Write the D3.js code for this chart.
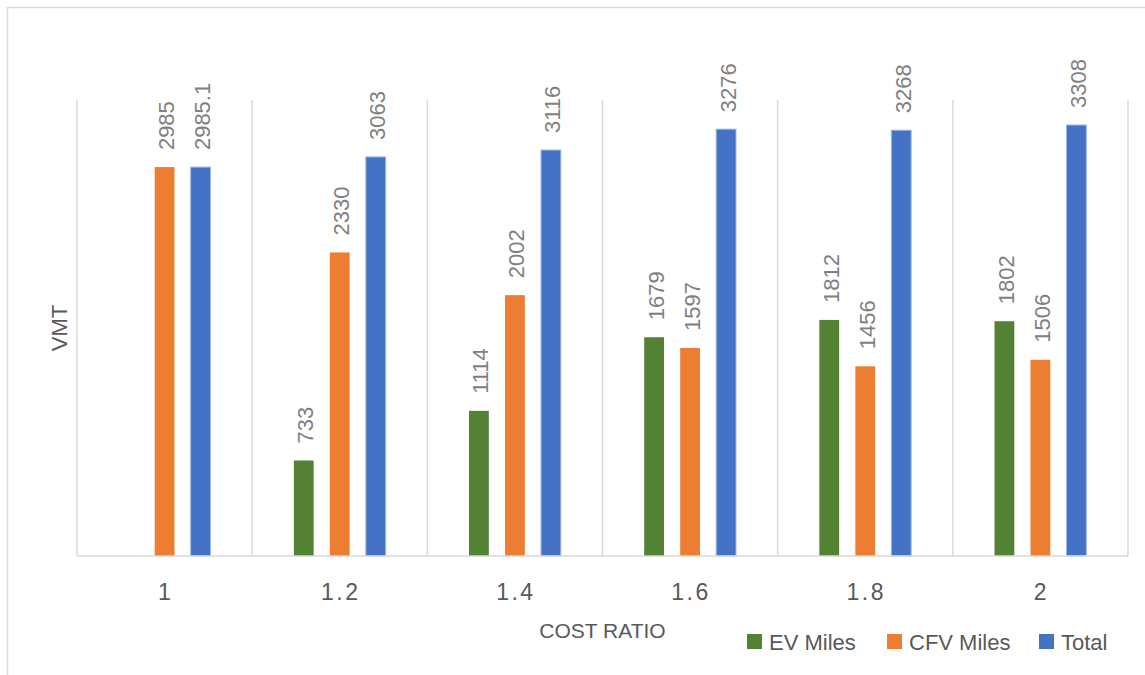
<!DOCTYPE html>
<html>
<head>
<meta charset="utf-8">
<script src="https://cdn.jsdelivr.net/npm/d3@7"></script>
<style>
  body { margin: 0; background: #fff; }
  text { font-family: "Liberation Sans", Arial, sans-serif; }
</style>
</head>
<body>
<div id="chart"></div>
<script>
const categories = ["1", "1.2", "1.4", "1.6", "1.8", "2"];
const seriesNames = ["EV Miles", "CFV Miles", "Total"];
const evMiles = [null, 733, 1114, 1679, 1812, 1802];
const cfvMiles = [2985, 2330, 2002, 1597, 1456, 1506];
const totals = [2985.1, 3063, 3116, 3276, 3268, 3308];
const colors = ["#548235", "#ED7D31", "#4472C4"];

const width = 1145, height = 675;
const margin = { top: 100, right: 17, bottom: 119, left: 77 };
const plotW = width - margin.left - margin.right,
      plotH = height - margin.top - margin.bottom;

const svg = d3.select("#chart").append("svg")
    .attr("width", width)
    .attr("height", height);

// outer chart border (only left/top are visible in the picture)
svg.append("rect")
    .attr("x", 7.5).attr("y", 7.5)
    .attr("width", 1160).attr("height", 700)
    .attr("fill", "none")
    .attr("stroke", "#d9d9d9")
    .attr("stroke-width", 1.5);

const g = svg.append("g")
    .attr("transform", `translate(${margin.left}, ${margin.top})`);

const x0 = d3.scaleBand().domain(categories).range([0, plotW]).padding(0);
const groupW = 108;
const x1 = d3.scaleBand().domain(seriesNames)
    .range([(x0.bandwidth() - groupW) / 2, (x0.bandwidth() + groupW) / 2])
    .paddingInner(0.45).paddingOuter(0.225);
const y = d3.scaleLinear().domain([0, 3500]).range([plotH, 0]);

// vertical gridlines at category boundaries
const bounds = categories.map(c => x0(c)).concat([plotW]);
g.selectAll(".grid").data(bounds).join("line")
    .attr("x1", d => d).attr("x2", d => d)
    .attr("y1", 0).attr("y2", plotH)
    .attr("stroke", "#d9d9d9").attr("stroke-width", 1.5);

const rows = categories.map((c, i) => ({
    cat: c,
    vals: [evMiles[i], cfvMiles[i], totals[i]]
}));

const groups = g.selectAll(".grp").data(rows).join("g")
    .attr("transform", d => `translate(${x0(d.cat)},0)`);

const items = groups.selectAll(".bar")
    .data(d => d.vals.map((v, k) => ({ name: seriesNames[k], v, k })).filter(d => d.v != null))
    .join("g");

items.append("rect")
    .attr("x", d => x1(d.name))
    .attr("width", x1.bandwidth())
    .attr("y", d => y(d.v))
    .attr("height", d => plotH - y(d.v))
    .attr("fill", d => colors[d.k])
    .attr("stroke", d => d.k === 2 ? "#9fb6e1" : "none")
    .attr("stroke-width", 1);

items.append("text")
    .attr("transform", d => `translate(${x1(d.name) + x1.bandwidth() / 2}, ${y(d.v) - 17}) rotate(-90)`)
    .attr("dy", "0.43em")
    .attr("text-anchor", "start")
    .attr("font-size", 22)
    .attr("fill", "#7f7f7f")
    .text(d => d.v);

// baseline axis
g.append("line")
    .attr("x1", 0).attr("x2", plotW)
    .attr("y1", plotH).attr("y2", plotH)
    .attr("stroke", "#d9d9d9").attr("stroke-width", 1.5);

// category labels
g.selectAll(".xlab").data(categories).join("text")
    .attr("x", d => x0(d) + x0.bandwidth() / 2 + 1)
    .attr("y", plotH + 44)
    .attr("text-anchor", "middle")
    .attr("font-size", 23)
    .attr("letter-spacing", "2.5px")
    .attr("fill", "#595959")
    .text(d => d);

// axis titles
svg.append("text")
    .attr("x", margin.left + plotW / 2)
    .attr("y", 638)
    .attr("text-anchor", "middle")
    .attr("font-size", 21)
    .attr("fill", "#595959")
    .text("COST RATIO");

svg.append("text")
    .attr("transform", "translate(67, 328) rotate(-90)")
    .attr("text-anchor", "middle")
    .attr("font-size", 22)
    .attr("fill", "#595959")
    .text("VMT");

// legend
const legendX = [747, 887, 1039];
const legend = svg.selectAll(".leg").data(seriesNames).join("g")
    .attr("transform", (d, i) => `translate(${legendX[i]}, 634)`);
legend.append("rect")
    .attr("width", 15).attr("height", 15)
    .attr("fill", (d, i) => colors[i]);
legend.append("text")
    .attr("x", 22).attr("y", 16)
    .attr("font-size", 22)
    .attr("fill", "#595959")
    .text(d => d);
</script>
</body>
</html>
